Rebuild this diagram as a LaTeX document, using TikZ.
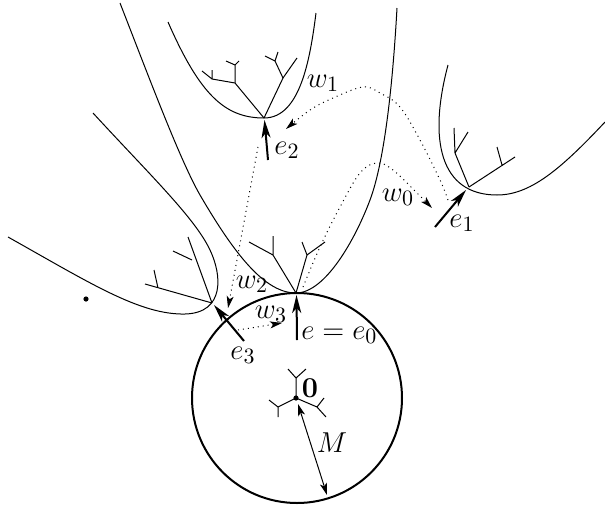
\documentclass[tikz,border=0pt]{standalone}
\usepackage{amsmath}
\usepackage{amssymb}
\usepackage{tikz}
\usepackage{xcolor}
\usetikzlibrary{arrows.meta}

\begin{document}
\begin{tikzpicture}[x=0.5pt,y=-0.5pt,
  curve/.style={line width=0.5pt},
  branch/.style={line width=0.5pt},
  edgearrow/.style={line width=1pt,-{Stealth[length=9pt,width=4.5pt,inset=2.5pt]}},
  walk/.style={dotted,line width=0.5pt,-{Stealth[length=6pt,width=3.5pt,inset=1.5pt]}},
  lbl/.style={inner sep=0.5pt,font=\fontsize{15}{17}\selectfont}]
\useasboundingbox (0,0) rectangle (605,509);
% roots of the trees
\coordinate (e0) at (296,293);
\coordinate (e1) at (469,187);
\coordinate (e2) at (264,118);
\coordinate (e3) at (212,303);
\coordinate (o) at (296,398);
% the ball
\draw[line width=1pt] (297,398) circle[radius=105];
\fill (o) circle[radius=2.6];
\fill (86,299) circle[radius=2.6];
% horocycle-like curves
\draw[curve] (120,3) .. controls (150,80) and (180,160) .. (200,195)
  .. controls (235,255) and (265,293) .. (e0)
  .. controls (325,293) and (355,240) .. (370,200)
  .. controls (385,160) and (393,80) .. (397,8);
\draw[curve] (168,22) .. controls (200,95) and (225,118) .. (e2)
  .. controls (300,118) and (310,60) .. (316,13);
\draw[curve] (8,237) .. controls (90,283) and (140,315) .. (185,314)
  .. controls (225,313) and (222,275) .. (210,250)
  .. controls (195,218) and (150,175) .. (93,113);
\draw[curve] (448,65) .. controls (428,140) and (440,195) .. (497,195)
  .. controls (530,195) and (560,170) .. (605,122);
% trees
\draw[branch] (e0)--(273,255)--(249,242) (273,255)--(273,236);
\draw[branch] (e0)--(307,255)--(302,242) (307,255)--(325,242);
\draw[branch] (e2)--(235,83)--(235,65)--(226,61) (235,65)--(239,61);
\draw[branch] (235,83)--(212,79)--(202,71) (212,79)--(212,70);
\draw[branch] (e2)--(283,78)--(275,61)--(265,56) (275,61)--(278,52);
\draw[branch] (283,78)--(297,58);
\draw[branch] (e1)--(455,153)--(454,128) (455,153)--(468,132);
\draw[branch] (e1)--(515,157) (502,165)--(497,147);
\draw[branch] (e3)--(145,284) (158,288)--(154,270);
\draw[branch] (e3)--(188,237) (192,260)--(173,251);
\draw[branch] (o)--(296,378)--(288,369) (296,378)--(306,369);
\draw[branch] (o)--(278,407)--(269,400) (278,407)--(278,417);
\draw[branch] (o)--(317,407)--(324,398) (317,407)--(326,417);
% edges
\coordinate (t0) at (297,340);
\coordinate (t1) at (435,227);
\coordinate (t2) at (268,160);
\coordinate (t3) at (244,341);
\draw[edgearrow] (t0) -- (296.5,295);
\draw[edgearrow] (t1) -- (466,190);
\draw[edgearrow] (t2) -- (264.5,120);
\draw[edgearrow] (t3) -- (214,305);
% walks
\draw[walk] plot[smooth,tension=0.6] coordinates {(303,287) (320,247) (340,207) (360,173) (377,163) (393,170) (417,193) (432,208)};
\draw[walk] plot[smooth,tension=0.6] coordinates {(448,200) (440,180) (420,140) (400,107) (380,93) (363,87) (333,98) (310,110) (286,129)};
\draw[walk] (258,147) -- (228,308);
\draw[walk] (238,330) -- (282,323);
% radius
\draw[line width=0.5pt,{Stealth[length=6pt,width=3.5pt,inset=1.5pt]}-{Stealth[length=6pt,width=3.5pt,inset=1.5pt]}] (298,404) -- (327,495);
% labels
\node[lbl] (lw0) at (398,197) {$w_0$};
\node[lbl] (lw1) at (323,83) {$w_1$};
\node[lbl] (lw2) at (252,284) {$w_2$};
\node[lbl] (lw3) at (271,314) {$w_3$};
\node[lbl] (le1) at (462,223) {$e_1$};
\node[lbl] (le2) at (287,150) {$e_2$};
\node[lbl] (le3) at (243,355) {$e_3$};
\node[lbl,anchor=west] (le0) at (300,335) {$e=e_0$};
\node[lbl] (lo) at (310,388) {$\mathbf{0}$};
\node[lbl] (lm) at (332,443) {$M$};
\end{tikzpicture}
\end{document}
